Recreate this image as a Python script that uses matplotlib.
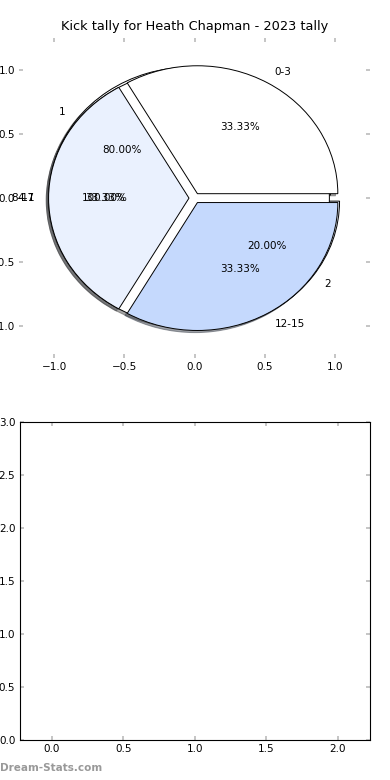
import matplotlib
matplotlib.use("Agg")
import matplotlib.pyplot as plt

# ---- data ----
title = "Kick tally for Heath Chapman - 2023 tally"
pie_b_labels = ["1", "2"]
pie_b_values = [4, 1]
pie_c_labels = ["4-7"]
pie_c_values = [1]
pie_a_labels = ["0-3", "8-11", "12-15"]
pie_a_values = [1, 1, 1]
x_ticks = [-1.0, -0.5, 0.0, 0.5, 1.0]
y_ticks = [-1.0, -0.5, 0.0, 0.5, 1.0]
bottom_xticks = [0.0, 0.5, 1.0, 1.5, 2.0]
bottom_yticks = [0.0, 0.5, 1.0, 1.5, 2.0, 2.5, 3.0]

colors = ["#ffffff", "#eaf1fe", "#c5d9fd"]

plt.rcParams['font.family'] = ['DejaVu Sans']

fig = plt.figure(figsize=(3.9, 7.8), dpi=100)
ax1 = fig.add_axes([0.049, 0.541, 0.9, 0.41])
ax2 = fig.add_axes([0.05, 0.0513, 0.899, 0.4078])

tp = {'fontsize': 7.5}
for vals, labs in [(pie_b_values, pie_b_labels), (pie_c_values, pie_c_labels),
                   (pie_a_values, pie_a_labels)]:
    ax1.pie(vals, labels=labs, colors=colors[:len(vals)], autopct='%1.2f%%',
            explode=[0.04] * len(vals),
            shadow={'ox': -0.012, 'oy': -0.012},
            frame=True,
            wedgeprops={'edgecolor': 'black', 'linewidth': 0.7},
            textprops=tp)

ax1.set_aspect('auto')
ax1.set_xlim(-1.25, 1.25)
ax1.set_ylim(-1.25, 1.25)
ax1.set_xticks(x_ticks)
ax1.set_yticks(y_ticks)
for s in ax1.spines.values():
    s.set_visible(False)
ax1.set_title(title, fontsize=9.3)

ax2.set_xlim(-0.225, 2.225)
ax2.set_ylim(0, 3)
ax2.set_xticks(bottom_xticks)
ax2.set_yticks(bottom_yticks)

for ax in (ax1, ax2):
    ax.tick_params(direction='in', length=3, width=1.2, color='#bbbbbb',
                   labelsize=7.5, top=True, right=True, pad=3)

fig.text(0.0, 0.009, "Dream-Stats.com", fontsize=7.5, fontweight='bold',
         color='#999999', ha='left', va='bottom')

fig.savefig("out.png", dpi=100)
